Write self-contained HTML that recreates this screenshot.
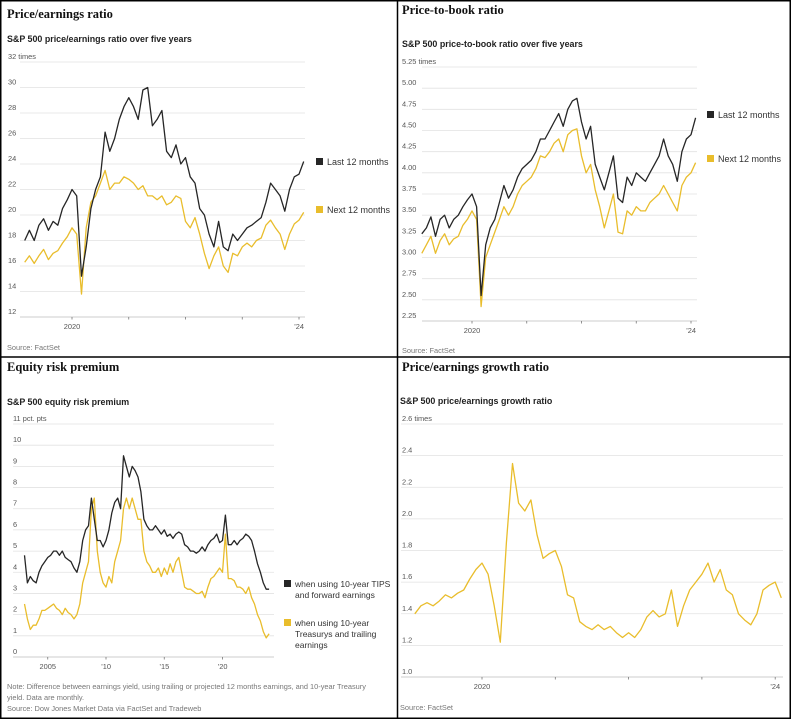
<!DOCTYPE html>
<html><head><meta charset="utf-8">
<style>
html,body{margin:0;padding:0;background:#fff}
svg{display:block}
.t{font-family:"Liberation Serif",serif;font-weight:bold;font-size:12.5px;fill:#111}
.s{font-family:"Liberation Sans",sans-serif;font-weight:bold;font-size:8.9px;fill:#222}
.k{font-family:"Liberation Sans",sans-serif;font-size:7.4px;fill:#555}
.l{font-family:"Liberation Sans",sans-serif;font-size:9px;fill:#333}
.l2{font-family:"Liberation Sans",sans-serif;font-size:8.5px;fill:#333}
.n{font-family:"Liberation Sans",sans-serif;font-size:7.4px;fill:#777}
</style></head><body>
<svg id="c" width="791" height="719" viewBox="0 0 791 719">
<rect x="0.75" y="0.75" width="789.5" height="717.5" fill="none" stroke="#000" stroke-width="1.5"/>
<line x1="397.5" y1="0" x2="397.5" y2="719" stroke="#000" stroke-width="1.5"/>
<line x1="0" y1="357" x2="791" y2="357" stroke="#000" stroke-width="1.5"/>

<text class="t" x="7" y="18">Price/earnings ratio</text>
<text class="s" x="7" y="42">S&amp;P 500 price/earnings ratio over five years</text>
<text class="n" x="7" y="350">Source: FactSet</text>

<text class="t" x="402" y="14">Price-to-book ratio</text>
<text class="s" x="402" y="47">S&amp;P 500 price-to-book ratio over five years</text>
<text class="n" x="402" y="353">Source: FactSet</text>

<text class="t" x="7" y="371">Equity risk premium</text>
<text class="s" x="7" y="405">S&amp;P 500 equity risk premium</text>
<text class="n" x="7" y="689">Note: Difference between earnings yield, using trailing or projected 12 months earnings, and 10-year Treasury</text>
<text class="n" x="7" y="700">yield. Data are monthly.</text>
<text class="n" x="7" y="711">Source: Dow Jones Market Data via FactSet and Tradeweb</text>

<text class="t" x="402" y="371">Price/earnings growth ratio</text>
<text class="s" x="400" y="404">S&amp;P 500 price/earnings growth ratio</text>
<text class="n" x="400" y="710">Source: FactSet</text>
</svg>
<script>
// ---- Panel 1: P/E (monthly Mar 2019 - Feb 2024)
const peStart = 2019 + 2/12;
const peLast = [18.0,18.8,18.0,19.2,19.7,18.8,19.5,19.2,20.5,21.2,22.0,21.5,
 15.2,17.5,20.5,22.0,23.0,26.5,25.0,26.0,27.5,28.5,
 29.2,28.5,27.5,29.8,30.0,27.0,27.5,28.2,25.0,24.5,25.5,24.0,
 24.5,23.0,22.5,20.5,20.0,18.5,17.5,19.5,17.5,17.2,18.5,18.0,
 18.5,19.0,19.2,19.5,19.8,21.0,22.5,22.0,21.5,20.3,22.0,23.0,
 23.2,24.2];
const peNext = [16.3,16.8,16.2,16.8,17.3,16.5,17.0,17.2,17.8,18.3,19.0,18.5,
 13.8,19.0,21.0,21.5,22.5,23.5,22.0,22.5,22.5,23.0,
 22.8,22.5,22.0,22.3,21.5,21.5,21.2,21.5,20.8,21.0,21.5,21.3,
 19.5,19.0,19.8,18.5,17.0,15.8,16.8,17.5,16.0,15.5,17.0,16.8,
 17.5,17.8,17.5,18.0,18.2,19.2,19.6,19.0,18.5,17.3,18.5,19.3,
 19.6,20.2];
const peTicks = [12,14,16,18,20,22,24,26,28,30,32];
const peTickLabels = ["12","14","16","18","20","22","24","26","28","30","32 times"];
const peYears = [2020,2021,2022,2023,2024];
const peYearLabels = ["2020","","","","’24"];

// ---- Panel 2: P/B (monthly Feb 2019 - Feb 2024)
const pbStart = 2019 + 1/12;
const pbLast = [3.28,3.35,3.48,3.25,3.45,3.50,3.35,3.45,3.50,3.60,3.68,
 3.75,3.60,2.55,3.15,3.35,3.45,3.65,3.85,3.70,3.80,3.95,4.05,
 4.10,4.15,4.25,4.40,4.40,4.50,4.60,4.70,4.55,4.75,4.85,4.88,
 4.60,4.40,4.55,4.10,3.95,3.80,4.00,4.20,3.70,3.65,3.95,3.85,
 4.00,3.95,3.90,4.00,4.10,4.20,4.40,4.20,4.10,3.90,4.25,4.40,
 4.45,4.65];
const pbNext = [3.05,3.15,3.25,3.05,3.20,3.28,3.15,3.22,3.25,3.38,3.45,
 3.55,3.45,2.42,3.00,3.15,3.30,3.45,3.60,3.50,3.60,3.75,3.85,
 3.90,3.95,4.05,4.20,4.18,4.25,4.35,4.40,4.25,4.45,4.50,4.52,
 4.20,4.00,4.10,3.80,3.60,3.35,3.55,3.75,3.30,3.28,3.55,3.50,
 3.60,3.55,3.55,3.65,3.70,3.75,3.85,3.75,3.65,3.55,3.85,3.95,
 4.00,4.12];
const pbTicks = [2.25,2.5,2.75,3.0,3.25,3.5,3.75,4.0,4.25,4.5,4.75,5.0,5.25];
const pbTickLabels = ["2.25","2.50","2.75","3.00","3.25","3.50","3.75","4.00","4.25","4.50","4.75","5.00","5.25 times"];
const pbYears = [2020,2021,2022,2023,2024];
const pbYearLabels = ["2020","","","","’24"];

// ---- Panel 3: ERP (quarterly 2003Q1 - 2024Q1)
const erpStart = 2003.0;
const erpTips = [4.8,3.5,3.8,3.6, 3.5,4.0,4.3,4.5, 4.7,4.8,5.0,5.0, 4.8,5.0,4.7,4.6, 4.5,4.2,4.0,4.5,
 5.5,6.0,6.2,7.5, 6.5,5.5,5.5,5.2, 5.5,6.0,6.8,7.3, 7.5,7.0,9.5,9.0, 8.5,9.0,8.8,8.5,
 7.8,6.5,6.2,6.0, 6.0,6.2,6.0,5.8, 6.0,5.7,5.8,5.6, 5.8,5.9,5.8,5.3, 5.2,5.0,5.0,4.9,
 5.0,5.2,5.0,5.3, 5.5,5.6,5.8,5.4, 5.5,6.7,5.3,5.3, 5.5,5.3,5.5,5.6, 5.8,5.7,5.5,5.0,
 4.4,4.0,3.5,3.2, 3.2];
const erpTsy = [2.5,1.8,1.3,1.5, 1.5,1.8,2.2,2.2, 2.3,2.4,2.5,2.3, 2.2,2.0,2.3,2.1, 2.0,1.8,2.0,2.5,
 3.5,4.0,4.5,7.0, 7.5,5.0,4.0,3.5, 3.3,3.8,3.5,4.5, 5.0,5.5,7.0,7.5, 7.0,7.5,7.0,6.5,
 6.5,5.0,4.5,4.3, 4.0,4.0,4.2,3.8, 4.2,3.9,4.4,4.0, 4.5,4.7,4.0,3.3, 3.2,3.2,3.1,3.0,
 3.0,3.1,2.8,3.3, 3.7,3.8,4.0,4.2, 4.0,5.8,3.7,3.7, 3.6,3.3,3.3,3.2, 3.0,3.3,2.8,2.5,
 2.0,1.7,1.2,0.9, 1.1];
const erpTicks = [0,1,2,3,4,5,6,7,8,9,10,11];
const erpTickLabels = ["0","1","2","3","4","5","6","7","8","9","10","11 pct. pts"];
const erpYears = [2005,2010,2015,2020];
const erpYearLabels = ["2005","’10","’15","’20"];

// ---- Panel 4: PEG (monthly Feb 2019 - Feb 2024)
const pegStart = 2019 + 1/12;
const pegValues = [1.40,1.45,1.47,1.45,1.48,1.52,1.50,1.53,1.55,1.62,1.68,
 1.72,1.65,1.45,1.22,1.85,2.35,2.10,2.05,2.12,1.90,1.75,1.78,
 1.80,1.70,1.52,1.50,1.35,1.32,1.30,1.33,1.30,1.32,1.28,1.25,
 1.28,1.25,1.30,1.38,1.42,1.38,1.40,1.55,1.32,1.45,1.55,1.60,
 1.65,1.72,1.60,1.68,1.55,1.52,1.40,1.36,1.33,1.40,1.55,1.58,
 1.60,1.50];
const pegTicks = [1.0,1.2,1.4,1.6,1.8,2.0,2.2,2.4,2.6];
const pegTickLabels = ["1.0","1.2","1.4","1.6","1.8","2.0","2.2","2.4","2.6 times"];
const pegYears = [2020,2021,2022,2023,2024];
const pegYearLabels = ["2020","","","","’24"];

const NS = "http://www.w3.org/2000/svg";
const svg = document.getElementById('c');
const BLACK = "#262626", YELLOW = "#e9bd2c";
function mk(tag, attrs, parent){const e=document.createElementNS(NS,tag);for(const k in attrs)e.setAttribute(k,attrs[k]);(parent||svg).appendChild(e);return e;}

function panel(cfg){
  const g = mk('g',{});
  
  
  const y = v => cfg.y0 + (v - cfg.v0) / (cfg.v1 - cfg.v0) * (cfg.y1 - cfg.y0);
  const x = t => cfg.xRef + (t - cfg.tRef) * cfg.pxPerYear;
  cfg.ticks.forEach((v,i)=>{
    const yy = y(v);
    if (i>0) {
      const gl = mk('line',{x1:cfg.gx0,x2:cfg.gx1,y1:yy,y2:yy,stroke:"#e2e2e2","stroke-width":0.8},g);
      
      
    } else {
      const ax = mk('line',{x1:cfg.gx0,x2:cfg.gx1,y1:yy,y2:yy,stroke:"#bbb","stroke-width":0.8},g);
      
      
    }
    const tl = mk('text',{x:cfg.lx,y:yy-3,class:"k"},g);
    tl.textContent = cfg.tickLabels[i];
    
    
  });
  const base = y(cfg.ticks[0]);
  cfg.years.forEach((yr,i)=>{
    const xx = x(yr);
    const tk = mk('line',{x1:xx,x2:xx,y1:base,y2:base+2.5,stroke:"#777","stroke-width":0.8},g);
    
    
    if (cfg.yearLabels[i]) {
      const t = mk('text',{x:xx,y:base+12,class:"k","text-anchor":"middle"},g);
      t.textContent = cfg.yearLabels[i];
      
      
    }
  });
  cfg.series.forEach(s=>{
    const pts = s.data.map((v,i)=> x(cfg.start + i*cfg.step).toFixed(1)+","+y(v).toFixed(1)).join(" ");
    const pl = mk('polyline',{points:pts,fill:"none",stroke:s.color,"stroke-width":1.3,"stroke-linejoin":"round"},g);
    
    
  });
  cfg.legend.forEach(L=>{
    const sq = mk('rect',{x:L.x,y:L.y-7,width:7,height:7,fill:L.color},g);
    
    
    L.lines.forEach((ln,j)=>{
      const t = mk('text',{x:L.x+11,y:L.y+j*11,class:L.cls||"l"},g);
      t.textContent = ln;
      
      
    });
  });
}

panel({name:"pe-chart", v0:12,v1:32,y0:317,y1:62, tRef:2020,xRef:72,pxPerYear:56.75,
  gx0:20,gx1:305,lx:8, ticks:peTicks,tickLabels:peTickLabels, years:peYears,yearLabels:peYearLabels,
  start:peStart,step:1/12,
  series:[{name:"pe-next-12-line",data:peNext,color:YELLOW},{name:"pe-last-12-line",data:peLast,color:BLACK}],
  legend:[{x:316,y:165,color:BLACK,lines:["Last 12 months"]},{x:316,y:213,color:YELLOW,lines:["Next 12 months"]}]});

panel({name:"pb-chart", v0:2.25,v1:5.25,y0:321,y1:67, tRef:2020,xRef:472,pxPerYear:54.75,
  gx0:422,gx1:697,lx:402, ticks:pbTicks,tickLabels:pbTickLabels, years:pbYears,yearLabels:pbYearLabels,
  start:pbStart,step:1/12,
  series:[{name:"pb-next-12-line",data:pbNext,color:YELLOW},{name:"pb-last-12-line",data:pbLast,color:BLACK}],
  legend:[{x:707,y:118,color:BLACK,lines:["Last 12 months"]},{x:707,y:162,color:YELLOW,lines:["Next 12 months"]}]});

panel({name:"erp-chart", v0:0,v1:11,y0:657,y1:424, tRef:2010,xRef:106,pxPerYear:11.65,
  gx0:13,gx1:274,lx:13, ticks:erpTicks,tickLabels:erpTickLabels, years:erpYears,yearLabels:erpYearLabels,
  start:erpStart,step:0.25,
  series:[{name:"erp-treasury-trailing-line",data:erpTsy,color:YELLOW},{name:"erp-tips-forward-line",data:erpTips,color:BLACK}],
  legend:[{x:284,y:587,color:BLACK,cls:"l2",lines:["when using 10-year TIPS","and forward earnings"]},
          {x:284,y:626,color:YELLOW,cls:"l2",lines:["when using 10-year","Treasurys and trailing","earnings"]}]});

panel({name:"peg-chart", v0:1.0,v1:2.6,y0:677,y1:424, tRef:2020,xRef:482,pxPerYear:73.3,
  gx0:401,gx1:783,lx:402, ticks:pegTicks,tickLabels:pegTickLabels, years:pegYears,yearLabels:pegYearLabels,
  start:pegStart,step:1/12,
  series:[{name:"peg-line",data:pegValues,color:YELLOW}],
  legend:[]});
</script>
</body></html>
